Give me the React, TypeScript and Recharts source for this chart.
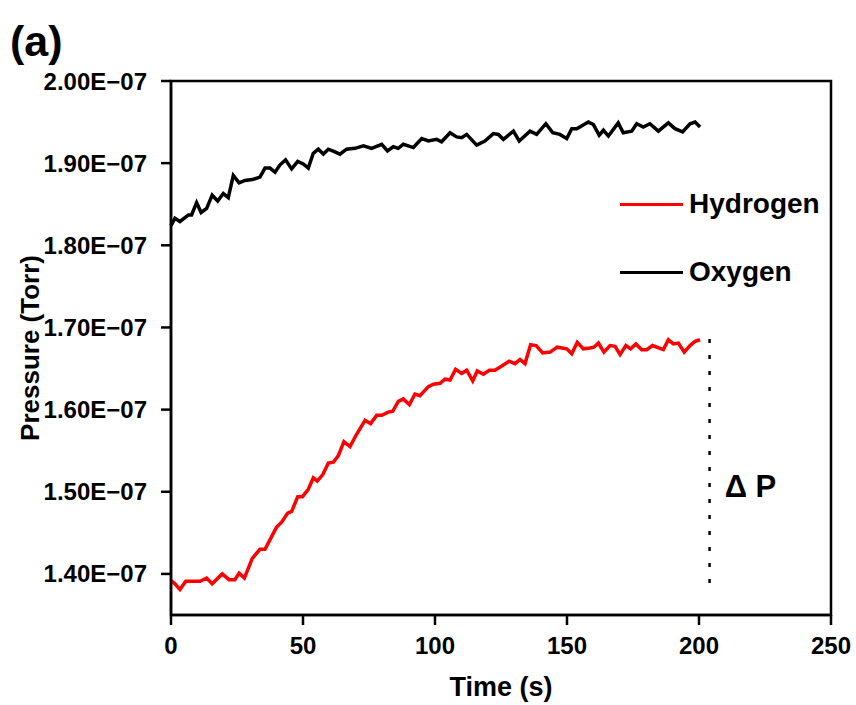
import React from "react";
import { Legend, Line, LineChart, ReferenceArea, ReferenceDot, ReferenceLine, XAxis, YAxis } from "recharts";

// pressure in units of 1e-7 Torr, time in seconds
const oxygenTime = [0, 1.5, 3.4, 6.6, 7.8, 9.7, 11.4, 13.5, 15.6, 17.7, 19.8, 21.7, 23.6, 25.8, 28, 30.8, 33.7, 35.6, 37.5, 39.4, 41.3, 43.4, 45.7, 48, 50.1, 52, 53.9, 55.8, 57.7, 59.6, 61.9, 64, 66.5, 69.7, 72.9, 76, 79.8, 82, 84.2, 86.1, 88, 91.8, 95, 97.5, 100.6, 102.5, 105.7, 108.2, 110.1, 112, 115.8, 118.9, 122.1, 124, 125.9, 129.7, 131.9, 136, 138.5, 142, 144.6, 147.3, 149.9, 151.8, 153.7, 158.1, 160, 162.2, 163.8, 165.7, 169.4, 171.3, 174.5, 176.4, 178.9, 181.4, 184.6, 188.4, 190.9, 193.8, 196.6, 198.5, 200.4];
const oxygenP = [1.824, 1.833, 1.829, 1.837, 1.837, 1.852, 1.84, 1.845, 1.861, 1.854, 1.863, 1.858, 1.885, 1.876, 1.879, 1.88, 1.883, 1.894, 1.894, 1.889, 1.898, 1.904, 1.893, 1.902, 1.899, 1.894, 1.912, 1.917, 1.911, 1.917, 1.914, 1.911, 1.917, 1.918, 1.921, 1.918, 1.923, 1.915, 1.92, 1.918, 1.923, 1.919, 1.93, 1.927, 1.929, 1.926, 1.937, 1.932, 1.931, 1.935, 1.922, 1.927, 1.936, 1.935, 1.929, 1.939, 1.927, 1.939, 1.935, 1.948, 1.937, 1.935, 1.93, 1.942, 1.942, 1.95, 1.947, 1.934, 1.94, 1.933, 1.949, 1.937, 1.939, 1.948, 1.944, 1.948, 1.939, 1.949, 1.942, 1.938, 1.948, 1.95, 1.944];

const hydrogenTime = [0, 1.5, 3.4, 5.6, 7.8, 11, 13.5, 15.6, 19.4, 22, 24.2, 25.8, 27.8, 30.8, 33.7, 35.6, 40, 41.9, 44.2, 45.7, 48, 49.8, 52, 53.9, 55.4, 57.5, 59.6, 61.5, 63.4, 65.5, 67.8, 70.3, 73.5, 75.6, 77.9, 79.8, 82.3, 84, 86.1, 88, 90.3, 92.4, 94.3, 97.5, 99.4, 101.9, 103.8, 105.7, 107.8, 110.1, 112, 114.3, 116, 118.3, 120.6, 122.7, 125.3, 128.1, 130.3, 132.2, 134.1, 136.2, 138.3, 140.8, 143.6, 146.3, 149.9, 151.8, 153.9, 156.2, 158.7, 160.2, 161.9, 164, 166.3, 168.2, 170.1, 172.3, 174.1, 176.1, 178.3, 180.2, 182.4, 186.5, 188.4, 190.3, 192.2, 194.4, 196.6, 198.5, 200.4];
const hydrogenP = [1.392, 1.388, 1.381, 1.391, 1.391, 1.391, 1.395, 1.388, 1.4, 1.393, 1.393, 1.401, 1.395, 1.419, 1.43, 1.43, 1.457, 1.463, 1.474, 1.476, 1.494, 1.494, 1.503, 1.517, 1.513, 1.521, 1.535, 1.536, 1.544, 1.561, 1.555, 1.57, 1.587, 1.583, 1.593, 1.593, 1.597, 1.598, 1.61, 1.613, 1.606, 1.619, 1.617, 1.628, 1.631, 1.632, 1.637, 1.636, 1.649, 1.644, 1.648, 1.635, 1.647, 1.643, 1.648, 1.648, 1.653, 1.659, 1.656, 1.661, 1.656, 1.679, 1.678, 1.669, 1.67, 1.676, 1.674, 1.668, 1.682, 1.674, 1.675, 1.676, 1.681, 1.67, 1.678, 1.677, 1.667, 1.678, 1.674, 1.68, 1.673, 1.673, 1.678, 1.673, 1.685, 1.68, 1.681, 1.67, 1.678, 1.683, 1.685];

const xTicks = [0, 50, 100, 150, 200, 250];
const yTicks = [1.4, 1.5, 1.6, 1.7, 1.8, 1.9, 2.0];
const deltaP = { t: 204, from: 1.389, to: 1.69, labelT: 219.5, labelP: 1.507 };

const oxygen = oxygenTime.map((t, i) => ({ t, p: oxygenP[i] }));
const hydrogen = hydrogenTime.map((t, i) => ({ t, p: hydrogenP[i] }));

const font = "'Liberation Sans', Arial, sans-serif";
const legendItems = [
  { name: "Hydrogen", color: "#ff0000" },
  { name: "Oxygen", color: "#000000" },
];

function LegendBox() {
  return (
    <div style={{ fontFamily: font, fontWeight: "bold", fontSize: 28 }}>
      {legendItems.map((s) => (
        <div key={s.name} style={{ display: "flex", alignItems: "center", height: 68 }}>
          <span style={{ display: "inline-block", width: 63, height: 3, background: s.color, marginRight: 6 }} />
          {s.name}
        </div>
      ))}
    </div>
  );
}

export default function App() {
  const axisStyle = { stroke: "#000", strokeWidth: 2.5 };
  return (
    <div style={{ position: "absolute", left: 0, top: 0, width: 856, height: 705, fontFamily: font, background: "#fff" }}>
      <div style={{ position: "absolute", left: 10, top: 15, fontSize: 43, fontWeight: "bold", lineHeight: "52px" }}>(a)</div>
      <LineChart width={856} height={705} margin={{ top: 81, right: 25, left: 41, bottom: 30 }}>
        <XAxis
          type="number"
          dataKey="t"
          domain={[0, 250]}
          ticks={xTicks}
          axisLine={axisStyle}
          tickLine={axisStyle}
          tickSize={10}
          tickMargin={12}
          height={60}
          tick={{ fill: "#000", fontSize: 24, fontWeight: "bold", fontFamily: font }}
          label={{ value: "Time (s)", position: "bottom", offset: 2, fill: "#000", fontSize: 27, fontWeight: "bold", fontFamily: font }}
        />
        <YAxis
          type="number"
          domain={[1.35, 2.0]}
          ticks={yTicks}
          tickFormatter={(v: number) => `${v.toFixed(2)}E\u221207`}
          axisLine={axisStyle}
          tickLine={axisStyle}
          tickSize={10}
          tickMargin={14}
          width={130}
          tick={{ fill: "#000", fontSize: 24, fontWeight: "bold", fontFamily: font }}
          label={{ value: "Pressure (Torr)", angle: -90, position: "insideLeft", offset: -11, style: { textAnchor: "middle" }, fill: "#000", fontSize: 26, fontWeight: "bold", fontFamily: font }}
        />
        <ReferenceArea x1={0} x2={250} y1={1.35} y2={2.0} fill="none" stroke="#000" strokeWidth={2.5} />
        <Line data={oxygen} dataKey="p" stroke="#000000" strokeWidth={3.5} dot={false} isAnimationActive={false} />
        <Line data={hydrogen} dataKey="p" stroke="#ff0000" strokeWidth={3.5} dot={false} isAnimationActive={false} />
        <ReferenceLine
          segment={[{ x: deltaP.t, y: deltaP.from }, { x: deltaP.t, y: deltaP.to }]}
          stroke="#000"
          strokeWidth={2.5}
          strokeDasharray="4 12"
        />
        <ReferenceDot
          x={deltaP.labelT}
          y={deltaP.labelP}
          r={0}
          fill="none"
          stroke="none"
          label={{ value: "\u0394 P", position: "center", fill: "#000", fontSize: 31, fontWeight: "bold", fontFamily: font }}
        />
        <Legend
          layout="vertical"
          align="center"
          verticalAlign="middle"
          content={<LegendBox />}
          wrapperStyle={{ left: 620, top: 170, width: 230, height: 140 }}
        />
      </LineChart>
    </div>
  );
}
